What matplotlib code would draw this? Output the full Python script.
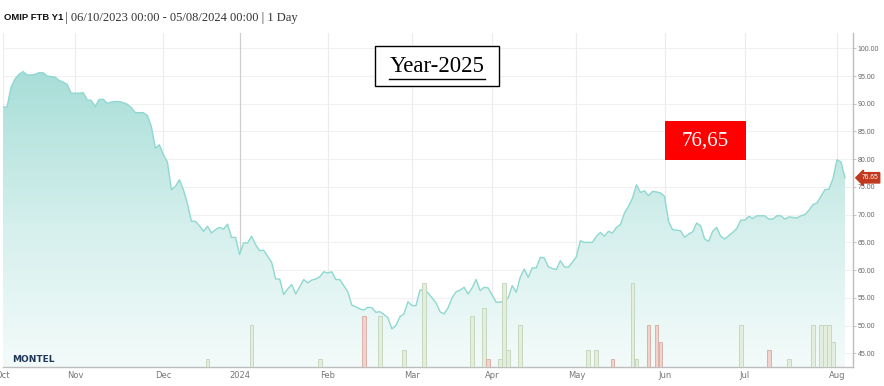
import numpy as np
import matplotlib
matplotlib.use("Agg")
import matplotlib.pyplot as plt
from matplotlib.colors import LinearSegmentedColormap
from matplotlib.patches import Rectangle
from matplotlib.lines import Line2D

# ---------------- data ----------------
# daily closing prices (trading days 06/10/2023 .. 05/08/2024)
prices = [
    89.4, 89.4, 93.0, 94.5, 95.3, 95.8, 95.2, 95.2, 95.3, 95.6,
    95.6, 95.0, 94.9, 94.8, 94.2, 93.9, 93.5, 91.9, 91.9, 91.9,
    92.0, 90.7, 90.6, 89.5, 90.8, 90.8, 90.1, 90.3, 90.4, 90.4,
    90.2, 89.9, 89.3, 88.4, 88.4, 88.4, 87.9, 85.9, 82.0, 82.6,
    80.8, 79.5, 74.5, 75.1, 76.3, 74.5, 72.0, 68.8, 68.8, 68.0,
    67.0, 67.9, 66.7, 67.3, 67.7, 67.4, 68.3, 65.9, 65.9, 62.8,
    64.9, 64.9, 66.1, 64.6, 63.5, 63.6, 62.5, 61.4, 58.4, 58.4,
    55.6, 56.6, 57.4, 55.7, 57.0, 58.3, 57.7, 58.2, 58.4, 58.8,
    59.7, 59.5, 59.7, 58.3, 58.3, 57.2, 56.1, 53.7, 53.4, 53.0,
    52.8, 53.3, 53.2, 52.4, 52.5, 52.0, 51.4, 49.4, 50.0, 51.6,
    52.1, 54.3, 53.6, 53.6, 56.4, 56.4, 55.9, 55.0, 54.1, 52.5,
    52.1, 53.2, 55.0, 56.1, 56.4, 56.9, 55.7, 56.8, 58.3, 56.3,
    56.9, 56.8, 55.5, 54.2, 54.2, 54.5, 55.0, 57.2, 56.0, 58.7,
    60.2, 58.7, 60.4, 60.4, 62.3, 62.2, 60.6, 60.3, 60.1, 61.7,
    60.6, 60.5, 61.4, 62.4, 65.3, 65.0, 65.0, 65.0, 66.1, 66.8,
    66.1, 67.0, 66.7, 67.7, 68.2, 70.3, 71.5, 73.0, 75.4, 74.0,
    74.3, 73.4, 74.2, 74.1, 73.9, 73.3, 68.8, 67.3, 67.2, 67.1,
    65.9, 66.5, 66.9, 68.5, 68.0, 65.6, 65.2, 67.0, 67.7, 66.1,
    65.6, 66.2, 66.8, 67.5, 69.0, 69.0, 69.7, 69.3, 69.8, 69.8,
    69.8, 69.2, 69.2, 69.8, 69.8, 69.2, 69.6, 69.5, 69.4, 69.8,
    70.0, 70.8, 71.8, 72.1, 73.3, 74.5, 74.6, 76.5, 79.9, 79.5,
    76.65,
]

# traded volume (trading-day index, contracts, up/down)
vol_days   = [51, 62, 79, 90, 94, 100, 105, 117, 120, 121, 124, 125, 126, 129,
              146, 148, 152, 157, 158, 161, 163, 164, 184, 191, 196, 202, 204,
              205, 206, 207]
vol_values = [1, 5, 1, 6, 6, 2, 10, 6, 7, 1, 1, 10, 2, 5,
              2, 2, 1, 10, 1, 5, 5, 3, 5, 2, 1, 5, 5,
              5, 5, 3]
vol_down   = [0, 0, 0, 1, 0, 0, 0, 0, 0, 1, 0, 0, 0, 0,
              0, 0, 1, 0, 0, 1, 1, 1, 0, 1, 0, 0, 0,
              0, 0, 0]

month_ticks  = [0, 18, 40, 59, 81, 102, 122, 143, 165, 185, 208]
month_labels = ["Oct", "Nov", "Dec", "2024", "Feb", "Mar", "Apr", "May",
                "Jun", "Jul", "Aug"]
y_ticks = [45, 50, 55, 60, 65, 70, 75, 80, 85, 90, 95, 100]

title_bold = "OMIP FTB Y1"
title_rest = " | 06/10/2023 00:00 - 05/08/2024 00:00 | 1 Day"
box_title = "Year-2025"
last_label = "76,65"
last_tag = "76.65"

# ---------------- figure ----------------
W, H = 884, 386
fig = plt.figure(figsize=(W / 100, H / 100), dpi=100)
fig.patch.set_facecolor("white")

def fx(px):
    return px / W

def fy(py):
    return 1 - py / H

ax_l, ax_r, ax_t, ax_b = 3, 853, 33, 367
ax = fig.add_axes([fx(ax_l), fy(ax_b), fx(ax_r) - fx(ax_l), fy(ax_t) - fy(ax_b)])
x = np.arange(len(prices))
y = np.array(prices)
ymin, ymax = 42.53, 102.76
xmax = 212
ax.set_xlim(0, xmax)
ax.set_ylim(ymin, ymax)

# grid
for yt in y_ticks:
    ax.axhline(yt, color="#f1f1f1", lw=0.8, zorder=0)
for i, xt in enumerate(month_ticks):
    if month_labels[i] == "2024":
        ax.axvline(xt, color="#cfcfcf", lw=0.9, zorder=0.5)
    else:
        ax.axvline(xt, color="#ececec", lw=0.8, zorder=0)

# gradient fill under the line
cmap = LinearSegmentedColormap.from_list(
    "g", [(0.0, "#f3fbfa"), (0.45, "#d6f0ed"), (1.0, "#a6ddd7")])
grad = np.linspace(0, 1, 256).reshape(-1, 1)
img = ax.imshow(grad, extent=(0, xmax, ymin, 97), origin="lower", cmap=cmap,
                aspect="auto", zorder=1)
poly = ax.fill_between(x, y, ymin, color="none", lw=0)
img.set_clip_path(poly.get_paths()[0], transform=ax.transData)
ax.plot(x, y, color="#8fd8d1", lw=1.0, zorder=3)

# volume bars on twin axis
ax2 = ax.twinx()
ax2.set_ylim(0, (ymax - ymin) / 1.52)
ax2.set_xlim(0, xmax)
for d, v, dn in zip(vol_days, vol_values, vol_down):
    fc = "#f1d2cc" if dn else "#e4eedf"
    ec = "#dab2aa" if dn else "#c6d8be"
    ax2.bar(d, v, width=0.95, color=fc, edgecolor=ec, lw=0.7, zorder=2)
ax2.set_axis_off()

# axes styling
for s in ["top", "left"]:
    ax.spines[s].set_visible(False)
ax.spines["right"].set_color("#bdbdbd")
ax.spines["bottom"].set_color("#bdbdbd")
ax.spines["right"].set_linewidth(1.0)
ax.spines["bottom"].set_linewidth(1.0)
ax.yaxis.tick_right()
ax.set_yticks(y_ticks)
ax.set_yticklabels([f"{t:.2f}" for t in y_ticks], fontsize=5, color="#666666",
                   family="Liberation Sans")
ax.tick_params(axis="y", length=2, width=0.6, color="#bbbbbb", pad=1.5)
ax.set_xticks(month_ticks)
ax.set_xticklabels(month_labels, fontsize=6, color="#777777", family="DejaVu Sans")
ax.tick_params(axis="x", length=0, pad=3)
for lbl in ax.get_xticklabels():
    lbl.set_clip_on(False)

# last value tag
ax.annotate(last_tag, xy=(1.0, prices[-1]), xycoords=("axes fraction", "data"),
            xytext=(6, 0), textcoords="offset points", fontsize=4.8, color="white",
            va="center", ha="left", family="Liberation Sans",
            bbox=dict(boxstyle="larrow,pad=0.25", fc="#c0391f", ec="#c0391f"),
            annotation_clip=False, zorder=10)

# header
fig.text(fx(4), fy(18), title_bold, fontsize=6.8, fontweight="bold",
         family="Liberation Sans", va="center", ha="left", color="#111111")
fig.text(fx(62), fy(18), title_rest, fontsize=9.0, family="Liberation Serif",
         va="center", ha="left", color="#333333")

# Year-2025 box
fig.patches.append(Rectangle((fx(375), fy(86)), fx(499) - fx(375), fy(46) - fy(86),
                             transform=fig.transFigure, fc="white", ec="black",
                             lw=1.0, zorder=5))
fig.text(fx(437), fy(66), box_title, fontsize=16.5, family="Liberation Serif",
         ha="center", va="center", color="black", zorder=6)
fig.lines.append(Line2D([fx(389), fx(485)], [fy(79), fy(79)], transform=fig.transFigure,
                        color="black", lw=1.0, zorder=6))

# red value box
fig.patches.append(Rectangle((fx(665), fy(160)), fx(746) - fx(665), fy(121) - fy(160),
                             transform=fig.transFigure, fc="#ff0000", ec="none",
                             zorder=5))
fig.text(fx(705.5), fy(141), last_label, fontsize=15, family="Liberation Serif",
         ha="center", va="center", color="white", zorder=6)

# logo
fig.text(fx(12), fy(359), "MONTEL", fontsize=6.5, fontweight="bold",
         family="DejaVu Sans", color="#1d3557", ha="left", va="center")

fig.savefig("out.png", dpi=100, facecolor="white")
